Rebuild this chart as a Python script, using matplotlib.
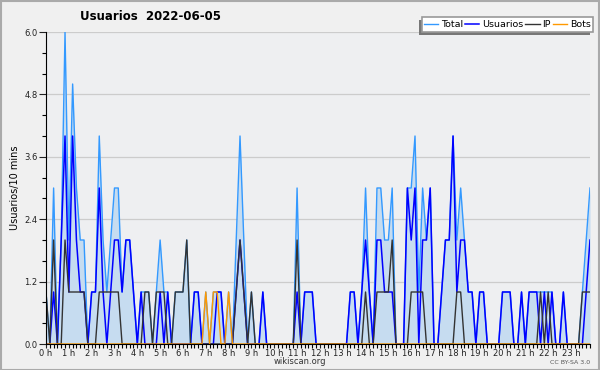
import matplotlib
matplotlib.use("Agg")
import matplotlib.pyplot as plt
import numpy as np

# Wikiscan: users per 10 minutes, 2022-06-05 (144 slots)
total = [1, 0, 3, 0, 2, 6, 2, 5, 3, 2, 2, 0, 1, 1, 4, 2, 1, 2, 3, 3,
         1, 2, 2, 1, 0, 1, 1, 1, 0, 1, 2, 1, 1, 0, 1, 1, 1, 2, 0, 1,
         1, 0, 1, 0, 1, 1, 1, 0, 1, 0, 2, 4, 2, 0, 1, 0, 0, 1, 0, 0,
         0, 0, 0, 0, 0, 0, 3, 0, 1, 1, 1, 0, 0, 0, 0, 0, 0, 0, 0, 0,
         1, 1, 0, 1, 3, 1, 0, 3, 3, 2, 2, 3, 0, 0, 0, 3, 3, 4, 1, 3,
         2, 3, 0, 0, 1, 2, 2, 4, 2, 3, 2, 1, 1, 0, 1, 1, 0, 0, 0, 0,
         1, 1, 1, 0, 0, 1, 0, 1, 1, 1, 1, 1, 1, 1, 0, 0, 1, 0, 0, 0,
         0, 1, 2, 3]
usuarios = [0, 0, 1, 0, 2, 4, 1, 4, 2, 1, 1, 0, 1, 1, 3, 1, 0, 1, 2, 2,
            1, 2, 2, 1, 0, 1, 0, 0, 0, 0, 1, 0, 1, 0, 0, 0, 0, 0, 0, 1,
            1, 0, 0, 0, 0, 1, 1, 0, 0, 0, 1, 2, 1, 0, 0, 0, 0, 1, 0, 0,
            0, 0, 0, 0, 0, 0, 1, 0, 1, 1, 1, 0, 0, 0, 0, 0, 0, 0, 0, 0,
            1, 1, 0, 1, 2, 1, 0, 2, 2, 1, 1, 1, 0, 0, 0, 3, 2, 3, 0, 2,
            2, 3, 0, 0, 1, 2, 2, 4, 1, 2, 2, 1, 1, 0, 1, 1, 0, 0, 0, 0,
            1, 1, 1, 0, 0, 1, 0, 1, 1, 1, 0, 1, 0, 1, 0, 0, 1, 0, 0, 0,
            0, 0, 1, 2]
ip = [1, 0, 2, 0, 0, 2, 1, 1, 1, 1, 1, 0, 0, 0, 1, 1, 1, 1, 1, 1,
      0, 0, 0, 0, 0, 0, 1, 1, 0, 1, 1, 1, 0, 0, 1, 1, 1, 2, 0, 0,
      0, 0, 0, 0, 0, 0, 0, 0, 0, 0, 1, 2, 1, 0, 1, 0, 0, 0, 0, 0,
      0, 0, 0, 0, 0, 0, 2, 0, 0, 0, 0, 0, 0, 0, 0, 0, 0, 0, 0, 0,
      0, 0, 0, 0, 1, 0, 0, 1, 1, 1, 1, 2, 0, 0, 0, 0, 1, 1, 1, 1,
      0, 0, 0, 0, 0, 0, 0, 0, 1, 1, 0, 0, 0, 0, 0, 0, 0, 0, 0, 0,
      0, 0, 0, 0, 0, 0, 0, 0, 0, 0, 1, 0, 1, 0, 0, 0, 0, 0, 0, 0,
      0, 1, 1, 1]
bots = [0] * 42 + [1, 0, 1, 1, 0, 0, 1] + [0] * 95

hour_labels = ["%d h" % h for h in range(24)]

x = np.arange(len(total))
W, H = 600, 370

fig = plt.figure(figsize=(6, 3.7), dpi=100, facecolor="#f0f0f0")
ax = fig.add_axes([46 / W, 26 / H, 544 / W, 312 / H])
ax.set_facecolor("#eeeff1")

ax.fill_between(x, total, color="#c6dcf0", lw=0)
ax.plot(x, total, color="#3399ff", lw=1.0, label="Total")
ax.plot(x, usuarios, color="#0000ff", lw=1.1, label="Usuarios")
ax.plot(x, ip, color="#333333", lw=1.0, label="IP")
ax.plot(x, bots, color="#ff9900", lw=1.0, label="Bots")

ax.set_xlim(0, len(total) - 1)
ax.set_ylim(0, 6.0)
ax.set_yticks(np.arange(0, 6.01, 1.2))
ax.set_yticklabels(["%.1f" % v for v in np.arange(0, 6.01, 1.2)])
ax.set_yticks(np.arange(0, 6.01, 0.4), minor=True)
ax.set_xticks(np.arange(0, 144, 6))
ax.set_xticklabels(hour_labels)
ax.set_xticks(np.arange(0, 144, 1), minor=True)
ax.grid(axis="y", color="#cccccc", lw=0.9)
ax.set_axisbelow(True)

for s in ["top", "right"]:
    ax.spines[s].set_visible(False)
ax.tick_params(axis="both", labelsize=6, colors="#222222")
ax.tick_params(axis="x", which="both", length=3, width=0.8, pad=0.5)
ax.tick_params(axis="y", which="major", length=5, width=0.8, pad=1)
ax.tick_params(axis="y", which="minor", length=3, width=0.8)

ax.set_ylabel("Usuarios/10 mins", fontsize=7, labelpad=3)
fig.text(151 / W, 1 - 17 / H, "Usuarios  2022-06-05", fontsize=8.5,
         fontweight="bold", ha="center", va="center")
fig.text(0.5, 1 - 362 / H, "wikiscan.org", fontsize=6, ha="center",
         va="center", color="#333333")
fig.text(590 / W, 1 - 362 / H, "CC BY-SA 3.0", fontsize=4.5, ha="right",
         va="center", color="#555555")

# legend box with shadow offset down-left
shadow = plt.Rectangle((419 / W, 1 - 35 / H), 171 / W, 15 / H,
                       transform=fig.transFigure, facecolor="#777777",
                       edgecolor="none", zorder=5)
frame = plt.Rectangle((422 / W, 1 - 32 / H), 171 / W, 15 / H,
                      transform=fig.transFigure, facecolor="white",
                      edgecolor="#999999", lw=1.2, zorder=6)
fig.patches.extend([shadow, frame])
leg = fig.legend(loc="center", bbox_to_anchor=(507.5 / W, 1 - 24.5 / H),
                 ncol=4, fontsize=6.8, frameon=False, handlelength=1.5,
                 handletextpad=0.3, columnspacing=0.2, borderpad=0,
                 borderaxespad=0)
leg.set_zorder(7)

border = plt.Rectangle((0.001, 0.001), 0.997, 0.996, transform=fig.transFigure,
                       fill=False, edgecolor="#aaaaaa", lw=1.5)
fig.patches.append(border)

fig.savefig("out.png", dpi=100, facecolor=fig.get_facecolor())
